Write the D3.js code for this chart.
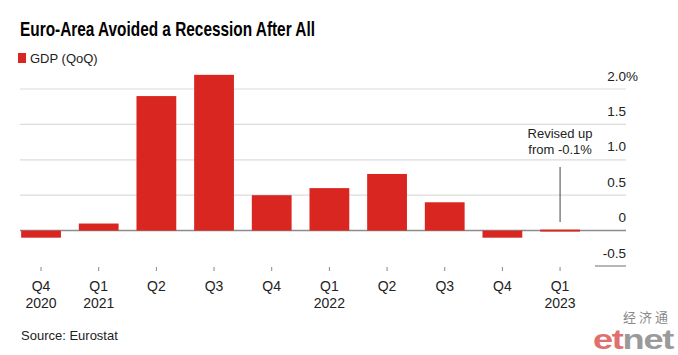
<!DOCTYPE html>
<html><head><meta charset="utf-8">
<script src="https://cdn.jsdelivr.net/npm/d3@7"></script>
<style>
body{margin:0;background:#fff;}
svg{display:block;font-family:"Liberation Sans",Arial,sans-serif;}
</style></head>
<body><svg id="chart" width="678" height="355"></svg>
<script>
const categories = ["Q4 2020","Q1 2021","Q2 2021","Q3 2021","Q4 2021","Q1 2022","Q2 2022","Q3 2022","Q4 2022","Q1 2023"];
const quarterLabels = ["Q4","Q1","Q2","Q3","Q4","Q1","Q2","Q3","Q4","Q1"];
const yearLabels = ["2020","2021","","","","2022","","","","2023"];
const gdp = [-0.1, 0.1, 1.9, 2.2, 0.5, 0.6, 0.8, 0.4, -0.1, 0.0];
const yTicks = [-0.5, 0, 0.5, 1.0, 1.5, 2.0];
const yTickLabels = ["-0.5","0","0.5","1.0","1.5","2.0"];

const svg = d3.select("#chart");
const red = "#d92620";

const x = d3.scaleBand().domain(categories).range([12.2, 588.9]).paddingInner(0.31).paddingOuter(0.155);
const y = d3.scaleLinear().domain([-0.5, 2.0]).range([266, 89]);

// title
svg.append("text").attr("x", 20).attr("y", 36).attr("font-size", 21).attr("font-weight", "bold")
  .attr("fill", "#000").attr("textLength", 295).attr("lengthAdjust", "spacingAndGlyphs")
  .text("Euro-Area Avoided a Recession After All");

// legend
svg.append("rect").attr("x", 18).attr("y", 53).attr("width", 8).attr("height", 10).attr("fill", red);
svg.append("text").attr("x", 30).attr("y", 63).attr("font-size", 13).attr("fill", "#222").text("GDP (QoQ)");

// gridlines
yTicks.forEach((t, i) => {
  if (t === 0) return;
  const x0 = t === -0.5 ? 595 : 20;
  svg.append("line").attr("x1", x0).attr("x2", 626).attr("y1", y(t)).attr("y2", y(t))
    .attr("stroke", t === -0.5 ? "#888" : "#dcdcdc").attr("stroke-width", 1.2);
});
// y labels
yTicks.forEach((t, i) => {
  svg.append("text").attr("x", 626).attr("y", y(t) - 8.5).attr("text-anchor", "end")
    .attr("font-size", 13.5).attr("fill", "#222").text(yTickLabels[i]);
  if (i === yTicks.length - 1) {
    svg.append("text").attr("x", 626).attr("y", y(t) - 8.5).attr("font-size", 13.5).attr("fill", "#222").text("%");
  }
});

// zero line
svg.append("line").attr("x1", 20).attr("x2", 626).attr("y1", y(0)).attr("y2", y(0))
  .attr("stroke", "#8c8c8c").attr("stroke-width", 1.5);

// bars
svg.selectAll("rect.bar").data(gdp).enter().append("rect").attr("class", "bar")
  .attr("x", (d, i) => x(categories[i]))
  .attr("width", x.bandwidth())
  .attr("y", d => d >= 0 ? y(d) - (d === 0 ? 1 : 0) : y(0))
  .attr("height", d => Math.max(Math.abs(y(d) - y(0)), 2))
  .attr("fill", red);

// x ticks and labels
categories.forEach((c, i) => {
  const cx = x(c) + x.bandwidth() / 2;
  svg.append("line").attr("x1", cx).attr("x2", cx).attr("y1", 267).attr("y2", 271)
    .attr("stroke", "#888").attr("stroke-width", 1);
  svg.append("text").attr("x", cx).attr("y", 291).attr("text-anchor", "middle")
    .attr("font-size", 14).attr("fill", "#222").text(quarterLabels[i]);
  if (yearLabels[i]) {
    svg.append("text").attr("x", cx).attr("y", 308).attr("text-anchor", "middle")
      .attr("font-size", 14).attr("fill", "#222").text(yearLabels[i]);
  }
});

// annotation
const ax = x("Q1 2023") + x.bandwidth() / 2;
svg.append("line").attr("x1", ax).attr("x2", ax).attr("y1", 167).attr("y2", 222)
  .attr("stroke", "#444").attr("stroke-width", 1);
svg.append("text").attr("x", ax).attr("y", 138).attr("text-anchor", "middle")
  .attr("font-size", 13).attr("fill", "#222").text("Revised up");
svg.append("text").attr("x", ax).attr("y", 154).attr("text-anchor", "middle")
  .attr("font-size", 13).attr("fill", "#222").text("from -0.1%");

// source
svg.append("text").attr("x", 21).attr("y", 340).attr("font-size", 13).attr("fill", "#222").text("Source: Eurostat");

// watermark
svg.append("text").attr("x", 647).attr("y", 322).attr("text-anchor", "middle")
  .attr("font-family", "Noto Sans CJK SC").attr("font-size", 13).attr("fill", "#8a8a8a")
  .attr("letter-spacing", 3).text("经济通");
const wm = svg.append("text").attr("x", 593).attr("y", 349).attr("font-size", 28)
  .attr("font-weight", "bold").attr("letter-spacing", -1).attr("textLength", 80).attr("lengthAdjust", "spacingAndGlyphs");
wm.append("tspan").attr("fill", "#e07070").text("et");
wm.append("tspan").attr("fill", "#9a9a9a").text("net");
</script>
</body></html>
